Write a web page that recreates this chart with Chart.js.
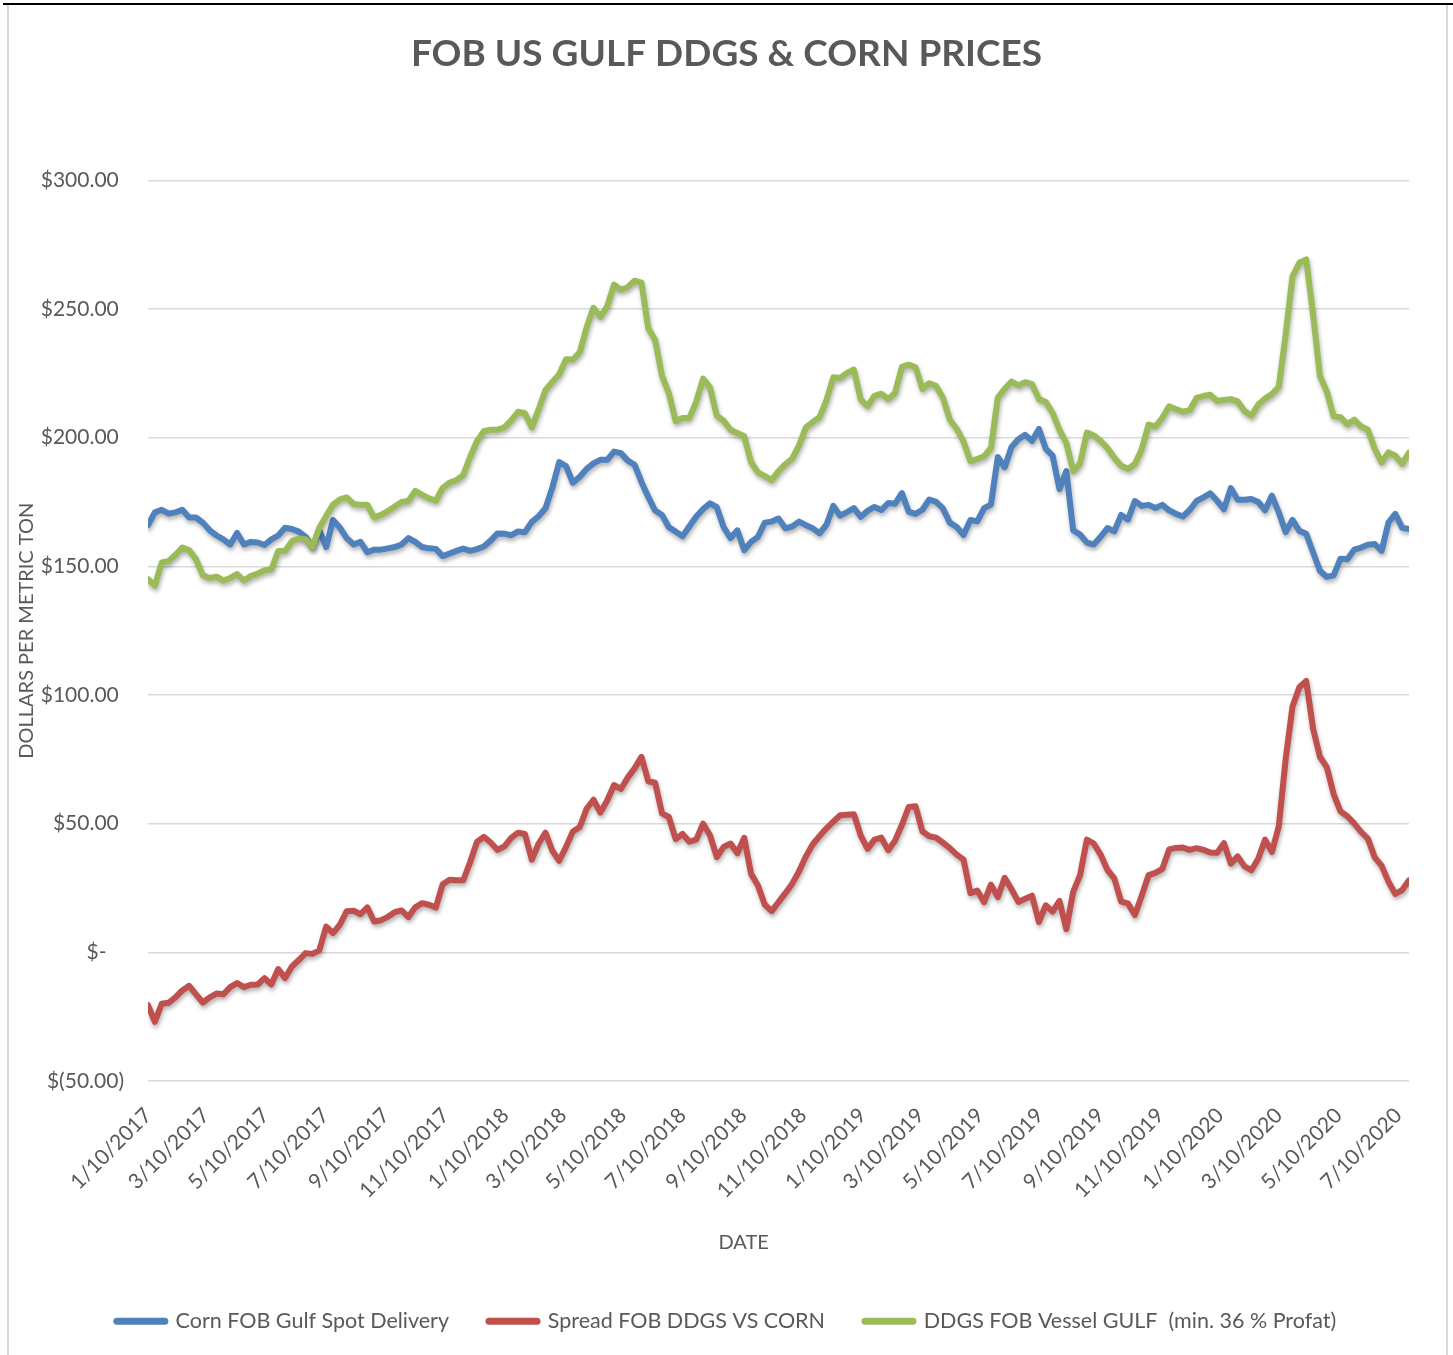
<!DOCTYPE html>
<html>
<head>
<meta charset="utf-8">
<title>FOB US GULF DDGS &amp; CORN PRICES</title>
<script src="https://cdn.jsdelivr.net/npm/chart.js@4.4.1/dist/chart.umd.min.js"></script>
<style>
  html, body { margin: 0; padding: 0; background: #fff; }
  #wrap { position: relative; width: 1453px; height: 1355px; overflow: hidden; }
  #frame { position: absolute; left: 7px; top: 5px; width: 1441px; height: 1360px; box-sizing: border-box;
           border-left: 2px solid #d9d9d9; border-right: 2px solid #d9d9d9; pointer-events: none; }
  #topline { position: absolute; left: 3px; top: 3px; width: 1450px; height: 2px; background: #000; }
  canvas { position: absolute; left: 0; top: 0; }
</style>
</head>
<body>
<div id="wrap">
  <canvas id="myChart" width="1453" height="1355"></canvas>
  <div id="frame"></div>
  <div id="topline"></div>
</div>
<script>
// weekly prices, first week 1/10/2017
const tickLabels = ['1/10/2017', '3/10/2017', '5/10/2017', '7/10/2017', '9/10/2017', '11/10/2017',
    '1/10/2018', '3/10/2018', '5/10/2018', '7/10/2018', '9/10/2018', '11/10/2018',
    '1/10/2019', '3/10/2019', '5/10/2019', '7/10/2019', '9/10/2019', '11/10/2019',
    '1/10/2020', '3/10/2020', '5/10/2020', '7/10/2020'];

const seriesNames = ['Corn FOB Gulf Spot Delivery', 'Spread FOB DDGS VS CORN', 'DDGS FOB Vessel GULF  (min. 36 % Profat)'];

const corn = [
    166, 171, 172, 170.5, 171, 172, 169, 169, 167, 164,
    162, 160.5, 158.5, 163, 158.5, 159.5, 159.3, 158.3, 160.5, 162,
    165, 164.5, 163.5, 161.5, 157.5, 164, 157.5, 168, 165, 161,
    158.5, 159.5, 155.5, 156.5, 156.5, 157, 157.5, 158.5, 161, 159.5,
    157.5, 157, 156.8, 154, 155, 156, 156.9, 156, 156.7, 157.7,
    160, 162.8, 162.7, 162.1, 163.6, 163.3, 167.3, 169.5, 172.6, 180.6,
    190.5, 189, 182.5, 184.8, 187.9, 190, 191.4, 191.4, 194.6, 194,
    191.1, 189.5, 182.8, 177, 171.7, 170, 165.2, 163.5, 161.7, 165.6,
    169.4, 172.3, 174.5, 173, 165.2, 161, 164, 156.3, 159.5, 161.5,
    167, 167.4, 168.6, 164.8, 165.5, 167.4, 166, 164.8, 162.8, 166.2,
    173.5, 169.7, 171.1, 172.6, 169.2, 171.6, 173.1, 171.9, 174.6, 174.3,
    178.5, 171.2, 170.4, 172, 176, 175.1, 172.5, 167, 165.3, 162.2,
    168, 167.5, 172.6, 174, 192.5, 188.5, 196.4, 199.4, 201.1, 198.7,
    203.4, 195.7, 193, 180, 187, 164, 162.4, 159.2, 158.5, 161.5,
    164.9, 163.6, 170, 168.2, 175.4, 173.5, 173.9, 172.7, 173.9, 171.8,
    170.4, 169.4, 171.9, 175.4, 176.8, 178.4, 175.5, 172.2, 180.4, 175.9,
    175.9, 176.2, 175, 171.8, 177.5, 171, 163.3, 168.1, 163.8, 162.7,
    155.5, 148.3, 145.9, 146.5, 153, 152.8, 156.5, 157.3, 158.4, 158.7,
    156, 167, 170.4, 165, 164.5
];

const spread = [
    -20.5, -27, -20, -19.6, -17.5, -14.8, -13, -16.3, -19.5, -17.5,
    -16, -16.3, -13.5, -11.9, -13.5, -12.6, -12.5, -10, -12.5, -6.5,
    -10, -5.5, -3, -0.3, -0.6, 0.8, 10, 7.5, 10.8, 16,
    16.2, 14.8, 17.5, 12, 12.5, 13.8, 15.6, 16.3, 13.7, 17.5,
    19.1, 18.5, 17.4, 26.5, 28.2, 28, 28, 35, 42.9, 44.9,
    42.7, 39.8, 41.2, 44.5, 46.5, 46, 36, 42.3, 46.5, 39.5,
    35.6, 41, 47, 48.7, 55.8, 59.3, 54.3, 59, 65, 63.5,
    67.9, 71.5, 76, 66.5, 65.9, 54, 52.6, 44, 46, 43,
    43.8, 50, 45.5, 37, 41, 42.3, 38.5, 44.5, 30.5, 26,
    18.5, 16, 19.5, 23, 26.7, 31.5, 37.3, 42, 45.2, 48.2,
    50.8, 53.3, 53.5, 53.7, 45.4, 40.2, 43.8, 44.6, 39.7, 43.4,
    49.5, 56.5, 56.8, 47, 45.1, 44.6, 42.6, 40.5, 38, 36,
    23, 24, 19.5, 26.3, 21.5, 29, 24.5, 19.6, 20.8, 22,
    11.8, 18.3, 15.8, 20, 9, 23.5, 30, 43.8, 42.3, 38,
    32, 28.7, 19.7, 19, 14.5, 22, 30, 30.9, 32.4, 40,
    40.6, 40.7, 39.8, 40.5, 39.8, 38.8, 38.7, 42.4, 34.5, 37.3,
    33.4, 31.9, 36.4, 43.8, 39, 49, 75, 95.5, 103, 105.5,
    87, 76, 72, 61.5, 54.8, 52.9, 50.1, 46.8, 44.2, 36.9,
    33.7, 27.5, 22.7, 24.2, 28
];

const ddgs = [
    145, 142.5, 151.5, 152, 154.5, 157.3, 156.3, 152.8, 146.5, 145.5,
    146, 144.5, 145.5, 147, 144.5, 146.2, 147.2, 148.5, 148.8, 156,
    156, 159.8, 160.8, 160.5, 157.5, 165, 169.6, 174, 176, 176.8,
    174.2, 173.9, 173.9, 169, 170, 171.5, 173.3, 175, 175.4, 179.3,
    177.8, 176.4, 175.5, 180.5, 182.5, 183.5, 185.5, 192.5, 198.6, 202.5,
    203.1, 203.1, 204, 206.7, 210.1, 209.5, 204, 211, 218.5, 221.7,
    224.7, 230.5, 230.4, 233.2, 242.8, 250.5, 247, 251, 259.5, 257.5,
    258.5, 261, 260.3, 242.5, 238, 224, 217.3, 206.4, 207.7, 207.7,
    214, 223, 219.6, 208.5, 206.6, 203.1, 201.8, 200.6, 190.5, 186.5,
    185.1, 183.5, 187, 189.7, 191.9, 197, 204, 206.1, 208, 214.6,
    223.5, 223.2, 225.2, 226.5, 214.8, 212.3, 216.3, 217.1, 215, 217.4,
    227.5, 228.4, 227.4, 219, 221.2, 220.1, 215.5, 207, 203.5, 198.5,
    190.9, 191.7, 192.8, 196, 215.6, 219, 221.8, 220.3, 221.6, 220.8,
    215, 213.9, 209.6, 203, 198, 187, 190, 202, 200.9, 198.8,
    196, 192.2, 189.1, 187.9, 189.8, 195.5, 205.1, 204.4, 207.7, 212.2,
    211.1, 210.1, 210.7, 215.5, 216.2, 216.7, 214.3, 214.7, 215, 214.1,
    210.4, 208.5, 212.9, 215.2, 217, 219.8, 240, 262.7, 268, 269.3,
    248, 224, 218, 208.3, 208, 205.2, 207, 204.4, 203.1, 195.7,
    190.4, 194.3, 193, 189.9, 194.2
];

const FONT = 'Lato, "Open Sans", sans-serif';
const GREY = '#595959';

// x axis counts days from 1/10/2017
const DAY = 86400000;
const start = Date.UTC(2017, 0, 10);
function dayOf(label) {
    const [m, d, y] = label.split('/').map(Number);
    return (Date.UTC(y, m - 1, d) - start) / DAY;
}
const tickDays = tickLabels.map(dayOf);
const weekDays = corn.map((v, i) => i * 7);
const toPoints = arr => arr.map((v, i) => ({ x: weekDays[i], y: v }));

// Excel accounting style labels
function money(v) {
    if (v === 0) return '$-\u2007\u2005';
    if (v < 0) return '$(' + Math.abs(v).toFixed(2) + ')';
    return '$' + v.toFixed(2) + '\u2005';
}

const lineShadow = {
    id: 'lineShadow',
    beforeDatasetDraw(chart) {
        const c = chart.ctx;
        c.save();
        c.shadowColor = 'rgba(0, 0, 0, 0.3)';
        c.shadowBlur = 4;
        c.shadowOffsetX = 1;
        c.shadowOffsetY = 3;
    },
    afterDatasetDraw(chart) {
        chart.ctx.restore();
    }
};

// centre title and legend on the whole picture, not on the padded area
const nudge = {
    id: 'nudge',
    afterLayout(chart) {
        [chart.titleBlock, chart.legend].forEach(b => { b.left += 15; b.right += 15; });
        chart.legend.top -= 13;
        chart.legend.bottom -= 13;
    }
};

const common = { borderWidth: 6, pointRadius: 0, tension: 0, fill: false, borderJoinStyle: 'round', borderCapStyle: 'round' };

const ctx = document.getElementById('myChart').getContext('2d');
const myChart = new Chart(ctx, {
    type: 'line',
    data: {
        datasets: [
            { ...common, label: seriesNames[0], data: toPoints(corn), borderColor: '#4F81BD', backgroundColor: '#4F81BD', order: 2 },
            { ...common, label: seriesNames[1], data: toPoints(spread), borderColor: '#C0504D', backgroundColor: '#C0504D', order: 1 },
            { ...common, label: seriesNames[2], data: toPoints(ddgs), borderColor: '#9BBB59', backgroundColor: '#9BBB59', order: 0 }
        ]
    },
    options: {
        responsive: false,
        animation: false,
        devicePixelRatio: 1,
        layout: { padding: { left: 14, right: 44, top: 0, bottom: 0 } },
        plugins: {
            title: {
                display: true,
                text: 'FOB US GULF DDGS & CORN PRICES',
                color: GREY,
                font: { family: FONT, size: 37, weight: 'bold' },
                padding: { top: 32, bottom: 104 }
            },
            legend: {
                position: 'bottom',
                labels: {
                    usePointStyle: true,
                    pointStyle: 'line',
                    pointStyleWidth: 48,
                    boxWidth: 48,
                    color: GREY,
                    font: { family: FONT, size: 21.5 },
                    padding: 40,
                    sort: (a, b) => a.datasetIndex - b.datasetIndex,
                    generateLabels: chart => Chart.defaults.plugins.legend.labels.generateLabels(chart)
                        .map(l => ({ ...l, lineWidth: 7, lineCap: 'round' }))
                }
            },
            tooltip: { enabled: false }
        },
        scales: {
            x: {
                type: 'linear',
                min: 0,
                max: weekDays[weekDays.length - 1],
                afterBuildTicks: s => { s.ticks = tickDays.map(v => ({ value: v })); },
                afterFit: s => { s.height = 202.5; },
                ticks: {
                    callback: v => tickLabels[tickDays.indexOf(v)],
                    autoSkip: false,
                    minRotation: 45,
                    maxRotation: 45,
                    color: GREY,
                    font: { family: FONT, size: 21 },
                    padding: 14
                },
                grid: { display: false },
                border: { display: false },
                title: {
                    display: true,
                    text: 'DATE\u2007\u2007\u2007\u2007\u2007\u2007',
                    color: GREY,
                    font: { family: FONT, size: 20 },
                    padding: { top: 0, bottom: 28.5 }
                }
            },
            y: {
                min: -50,
                max: 300,
                afterFit: s => { s.width = 134; },
                ticks: {
                    stepSize: 50,
                    callback: money,
                    color: GREY,
                    font: { family: FONT, size: 21 },
                    padding: 24
                },
                grid: { color: '#d9d9d9', lineWidth: 1.5, drawTicks: false },
                border: { display: false },
                title: {
                    display: true,
                    text: 'DOLLARS PER METRIC TON',
                    color: GREY,
                    font: { family: FONT, size: 20 },
                    padding: { top: 1, bottom: 0 }
                }
            }
        }
    },
    plugins: [lineShadow, nudge]
});
</script>
</body>
</html>
